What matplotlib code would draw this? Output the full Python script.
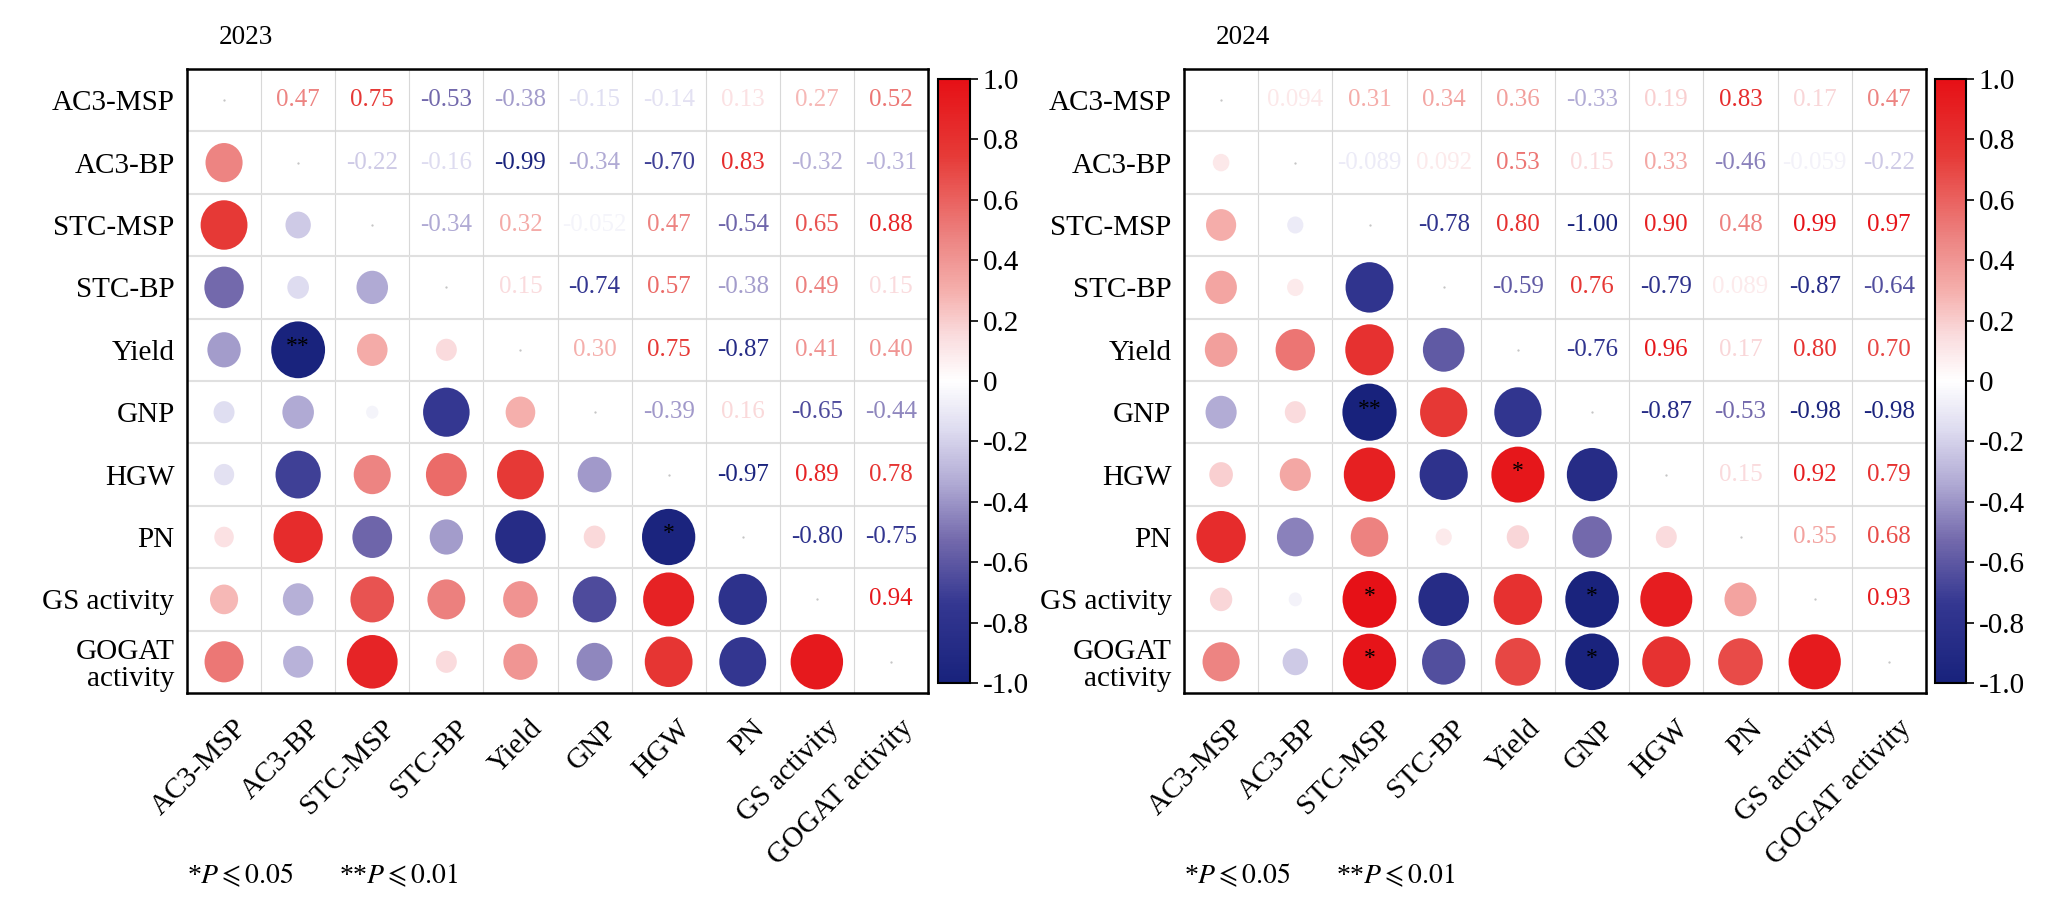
import numpy as np
import matplotlib
matplotlib.use('Agg')
import matplotlib.pyplot as plt
from matplotlib.patches import Ellipse
from matplotlib.colors import LinearSegmentedColormap, Normalize
from matplotlib.cm import ScalarMappable
from matplotlib.transforms import ScaledTranslation

plt.rcParams['font.family'] = ['Liberation Serif', 'DejaVu Serif', 'DejaVu Sans']
plt.rcParams['mathtext.fontset'] = 'stix'

# Variables (same order on both axes)
ROW_LABELS = ['AC3-MSP', 'AC3-BP', 'STC-MSP', 'STC-BP', 'Yield', 'GNP', 'HGW',
              'PN', 'GS activity', 'GOGAT\nactivity']
COL_LABELS = ['AC3-MSP', 'AC3-BP', 'STC-MSP', 'STC-BP', 'Yield', 'GNP', 'HGW',
              'PN', 'GS activity', 'GOGAT activity']

# Upper triangle of the correlation matrix, row by row
UPPER_2023 = [
    [0.47, 0.75, -0.53, -0.38, -0.15, -0.14, 0.13, 0.27, 0.52],
    [-0.22, -0.16, -0.99, -0.34, -0.70, 0.83, -0.32, -0.31],
    [-0.34, 0.32, -0.052, 0.47, -0.54, 0.65, 0.88],
    [0.15, -0.74, 0.57, -0.38, 0.49, 0.15],
    [0.30, 0.75, -0.87, 0.41, 0.40],
    [-0.39, 0.16, -0.65, -0.44],
    [-0.97, 0.89, 0.78],
    [-0.80, -0.75],
    [0.94],
]
UPPER_2024 = [
    [0.094, 0.31, 0.34, 0.36, -0.33, 0.19, 0.83, 0.17, 0.47],
    [-0.089, 0.092, 0.53, 0.15, 0.33, -0.46, -0.059, -0.22],
    [-0.78, 0.80, -1.00, 0.90, 0.48, 0.99, 0.97],
    [-0.59, 0.76, -0.79, 0.089, -0.87, -0.64],
    [-0.76, 0.96, 0.17, 0.80, 0.70],
    [-0.87, -0.53, -0.98, -0.98],
    [0.15, 0.92, 0.79],
    [0.35, 0.68],
    [0.93],
]

# Significance marks in the lower triangle: (row, col) -> stars
STARS_2023 = {(4, 1): '**', (7, 6): '*'}
STARS_2024 = {(5, 2): '**', (6, 4): '*', (8, 2): '*', (8, 5): '*',
              (9, 2): '*', (9, 5): '*'}

# Blue - white - red palette
anchors = [
    (-1.00, (24, 34, 124)),
    (-0.74, (52, 55, 145)),
    (-0.53, (115, 105, 172)),
    (-0.34, (176, 170, 212)),
    (-0.16, (222, 220, 240)),
    (0.00, (255, 255, 255)),
    (0.15, (250, 220, 222)),
    (0.30, (245, 175, 172)),
    (0.47, (237, 133, 131)),
    (0.75, (230, 58, 55)),
    (1.00, (230, 16, 22)),
]
CMAP = LinearSegmentedColormap.from_list(
    'corr', [((v + 1) / 2, tuple(c / 255 for c in rgb)) for v, rgb in anchors])
NORM = Normalize(-1, 1)

W, H = 2057, 921


def full_matrix(upper):
    n = len(upper) + 1
    m = np.eye(n)
    for i, row in enumerate(upper):
        for k, v in enumerate(row):
            j = i + 1 + k
            m[i, j] = v
            m[j, i] = v
    return m


def fmt(v):
    if abs(v) < 0.1:
        return f'{v:.3f}'
    return f'{v:.2f}'


def draw_panel(fig, box, cbox, upper, stars, title, note_x):
    m = full_matrix(upper)
    n = m.shape[0]
    ax = fig.add_axes([box[0] / W, 1 - box[3] / H, (box[2] - box[0]) / W,
                       (box[3] - box[1]) / H])
    ax.set_xlim(0, n)
    ax.set_ylim(n, 0)

    # Cell grid
    for k in range(1, n):
        ax.axvline(k, color='#d8d8d8', lw=0.8, zorder=1)
        ax.axhline(k, color='#e0e0e0', lw=1.5, zorder=1)

    for i in range(n):
        for j in range(n):
            v = m[i, j]
            if i == j:
                ax.plot(j + 0.5, i + 0.5, marker='.', ms=1.2, color='#c0c0c0', zorder=2)
            elif j > i:
                ax.text(j + 0.5, i + 0.5, fmt(v), ha='center', va='center',
                        fontsize=18, color=CMAP(NORM(v)), zorder=3)
            else:
                s = np.sqrt(abs(v))
                ax.add_patch(Ellipse((j + 0.5, i + 0.5), 0.73 * s, 0.915 * s,
                                     facecolor=CMAP(NORM(v)), edgecolor='none',
                                     zorder=2))
                if (i, j) in stars:
                    ax.text(j + 0.5, i + 0.45, stars[(i, j)], ha='center',
                            va='center', fontsize=17, color='black', zorder=3)

    ax.set_xticks(np.arange(n) + 0.5)
    ax.set_yticks(np.arange(n) + 0.5)
    ax.set_xticklabels(COL_LABELS, rotation=45, ha='right', va='top',
                       rotation_mode='anchor', fontsize=21)
    ax.set_yticklabels(ROW_LABELS, fontsize=21, linespacing=1.05)
    ax.tick_params(length=0)
    ax.tick_params(axis='x', pad=16)
    ax.tick_params(axis='y', pad=9)
    shift = ScaledTranslation(9 / 100, 0, fig.dpi_scale_trans)
    for lbl in ax.get_xticklabels():
        lbl.set_transform(lbl.get_transform() + shift)
    for sp in ax.spines.values():
        sp.set_linewidth(1.8)
        sp.set_color('black')

    # Colour bar
    cax = fig.add_axes([cbox[0] / W, 1 - cbox[3] / H, (cbox[2] - cbox[0]) / W,
                        (cbox[3] - cbox[1]) / H])
    cb = fig.colorbar(ScalarMappable(norm=NORM, cmap=CMAP), cax=cax)
    ticks = np.round(np.arange(-1, 1.01, 0.2), 1)
    cb.set_ticks(ticks)
    cb.set_ticklabels(['0' if t == 0 else f'{t:.1f}' for t in ticks])
    cb.ax.tick_params(labelsize=21, length=6, width=1.2, pad=3)
    cb.outline.set_linewidth(1.5)

    fig.text((box[0] + 32) / W, 1 - 37 / H, title, fontsize=19.5,
             ha='left', va='center')
    fig.text(box[0] / W, 1 - 875 / H, r'*$\mathit{P}{\leqslant}\mathrm{0.05}$',
             fontsize=20, ha='left', va='center')
    fig.text(note_x / W, 1 - 875 / H, r'**$\mathit{P}{\leqslant}\mathrm{0.01}$',
             fontsize=20, ha='left', va='center')
    return ax


fig = plt.figure(figsize=(W / 100, H / 100), dpi=100)

draw_panel(fig, (187, 69, 928, 693), (938, 79, 970, 683),
           UPPER_2023, STARS_2023, '2023', 339)
draw_panel(fig, (1184, 69, 1926, 693), (1935, 79, 1966, 683),
           UPPER_2024, STARS_2024, '2024', 1336)

fig.savefig('out.png', dpi=100)
